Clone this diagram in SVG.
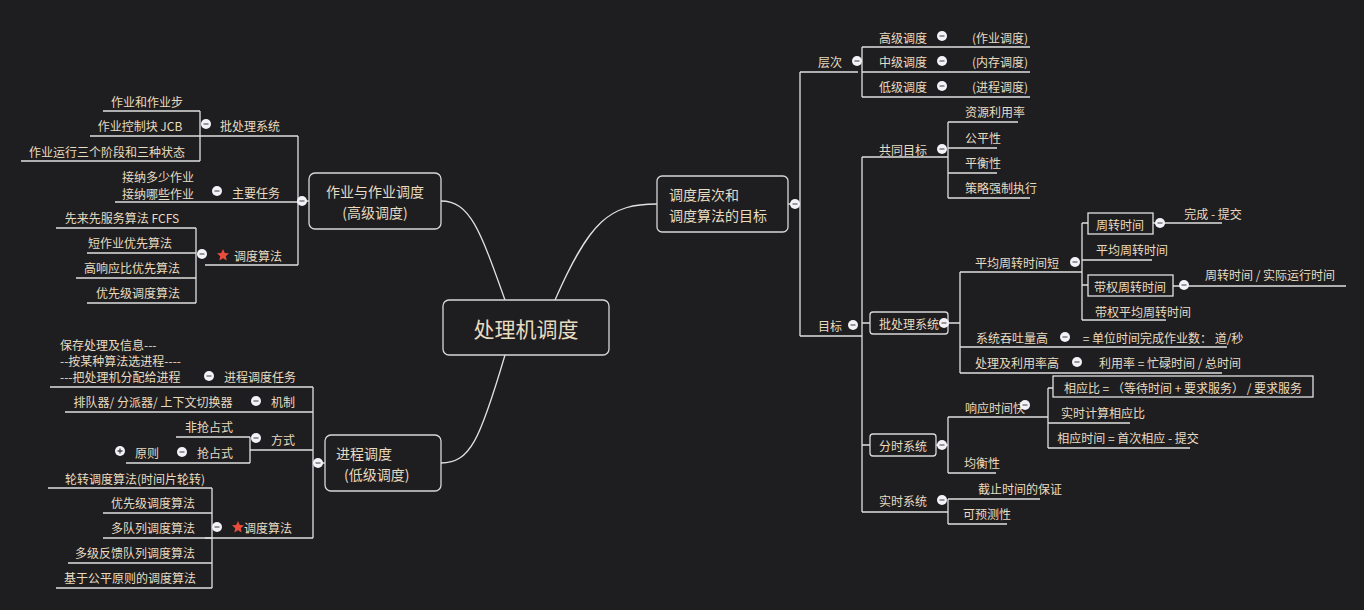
<svg xmlns="http://www.w3.org/2000/svg" xmlns:xlink="http://www.w3.org/1999/xlink" width="1364" height="610" viewBox="0 0 1364 610">
<style>
text{font-family:"Noto Sans CJK SC","Liberation Sans",sans-serif;font-size:12px;fill:#e8dcc0;dominant-baseline:central}
.m{text-anchor:middle}.e{text-anchor:end}
.big{font-size:14px}.c{font-size:21px}
.ln{stroke:#e0e0e0;stroke-width:1.3;fill:none}
.box{fill:#1e1e20;stroke:#d8d8d8;stroke-width:1.3}
</style>
<defs>
<g id="mn"><circle r="5" fill="#f2f2f8"/><line x1="-2.5" x2="2.5" stroke="#666" stroke-width="1.3"/></g>
<g id="pl"><circle r="5" fill="#f2f2f8"/><path d="M-2.5 0H2.5M0-2.5V2.5" stroke="#444" stroke-width="1.3"/></g>
<polygon id="star" points="0,-6 1.8,-2 6,-1.8 2.8,1.2 3.7,5.6 0,3.2 -3.7,5.6 -2.8,1.2 -6,-1.8 -1.8,-2" fill="#e84c3d"/>
</defs>
<rect width="1364" height="610" fill="#1e1e20"/>
<g id="connectors" class="ln">
<path d="M555 300C590 220 610 204 657 204"/>
<path d="M505 300C480 230 470 201 441 201"/>
<path d="M505 355C480 440 470 463 441 463"/>
<path d="M788 204H800M800 72V336M800 72H858M800 336H858"/>
<path d="M862 47V97M862 47H1030M862 72H1030M862 97H1030"/>
<path d="M858 336H862M862 157V512M862 157H938M862 323H870M862 445H870M862 512H938"/>
<path d="M948 122V198M948 122H1018M948 148H997M948 173H997M948 198H1030M938 157H948"/>
<path d="M948 323H960M960 272V373M960 272H1062M960 347H1227M960 373H1222"/>
<path d="M1062 272H1082M1082 223V320M1082 223H1088M1082 260H1152M1082 285H1088M1082 320H1166"/>
<path d="M1153 223H1222M1173 286H1346"/>
<path d="M936 445H948M948 417V473M948 417H1030M948 473H996"/>
<path d="M1030 417H1048M1048 388V448M1048 388H1053M1048 423H1130M1048 448H1190"/>
<path d="M938 512H948M948 499V524M948 499H1040M948 524H1007"/>
<path d="M309 201H298M298 136V265M298 136H90M298 202H115M298 265H205"/>
<path d="M200 111V161M200 111H103M200 161H21"/>
<path d="M196 228V303M196 228H56M196 253H87M196 278H76M196 303H87"/>
<path d="M325 463H313M313 387V538M313 387H50M313 412H65M313 450H250M313 538H205"/>
<path d="M250 437V463M250 437H176M250 463H126"/>
<path d="M212 488V588M212 488H48M212 513H103M212 538H103M212 563H68M212 588H56"/>
</g>
<g id="center"><rect class="box" x="443" y="300" width="166" height="55" rx="6"/><text class="m c" x="526" y="328">处理机调度</text></g>
<g id="n-right"><rect class="box" x="657" y="176" width="131" height="56" rx="5"/><text class="big" x="669" y="194">调度层次和</text><text class="big" x="669" y="215">调度算法的目标</text><use href="#mn" x="795" y="204"/></g>
<g id="n-cengci"><text class="m" x="830" y="61">层次</text><use href="#mn" x="857" y="61"/>
<text class="m" x="903" y="37">高级调度</text><use href="#mn" x="942" y="36"/><text class="m" x="1000" y="37">(作业调度)</text>
<text class="m" x="903" y="61">中级调度</text><use href="#mn" x="942" y="61"/><text class="m" x="1000" y="61">(内存调度)</text>
<text class="m" x="903" y="86">低级调度</text><use href="#mn" x="942" y="86"/><text class="m" x="1000" y="86">(进程调度)</text></g>
<g id="n-mubiao"><text class="m" x="830" y="325">目标</text><use href="#mn" x="853" y="325"/></g>
<g id="n-gongtong"><text class="m" x="903" y="149">共同目标</text><use href="#mn" x="942" y="149"/>
<text x="965" y="111">资源利用率</text><text x="965" y="137">公平性</text><text x="965" y="162">平衡性</text><text x="965" y="187">策略强制执行</text></g>
<g id="n-pichuli"><rect class="box" x="870" y="312" width="78" height="22" rx="3"/><text class="m" x="909" y="323">批处理系统</text><use href="#mn" x="944" y="323"/>
<text class="m" x="1017" y="262">平均周转时间短</text><use href="#mn" x="1075" y="262"/>
<rect fill="none" stroke="#e0e0e0" stroke-width="1.3" x="1088" y="213" width="65" height="21"/><text class="m" x="1120" y="224">周转时间</text><use href="#mn" x="1160" y="223"/><text class="m" x="1213" y="213">完成 - 提交</text>
<text class="m" x="1132" y="249">平均周转时间</text>
<rect fill="none" stroke="#e0e0e0" stroke-width="1.3" x="1088" y="275" width="85" height="21"/><text class="m" x="1130" y="286">带权周转时间</text><use href="#mn" x="1184" y="285"/><text class="m" x="1270" y="274">周转时间 / 实际运行时间</text>
<text class="m" x="1143" y="311">带权平均周转时间</text>
<text class="m" x="1012" y="337">系统吞吐量高</text><use href="#mn" x="1065" y="337"/><text class="m" x="1163" y="337">= 单位时间完成作业数： 道/秒</text>
<text class="m" x="1017" y="362">处理及利用率高</text><use href="#mn" x="1077" y="362"/><text class="m" x="1170" y="362">利用率 = 忙碌时间 / 总时间</text></g>
<g id="n-fenshi"><rect class="box" x="870" y="434" width="66" height="22" rx="3"/><text class="m" x="903" y="445">分时系统</text><use href="#mn" x="942" y="445"/>
<text class="m" x="995" y="407">响应时间快</text><use href="#mn" x="1025" y="405"/>
<rect fill="none" stroke="#e0e0e0" stroke-width="1.3" x="1053" y="376" width="260" height="21"/><text class="m" x="1183" y="387">相应比 = （等待时间 + 要求服务） /  要求服务</text>
<text class="m" x="1103" y="412">实时计算相应比</text><text class="m" x="1128" y="437">相应时间 = 首次相应 - 提交</text>
<text class="m" x="982" y="462">均衡性</text></g>
<g id="n-shishi"><text class="m" x="903" y="500">实时系统</text><use href="#mn" x="942" y="500"/>
<text class="m" x="1020" y="488">截止时间的保证</text><text class="m" x="987" y="513">可预测性</text></g>
<g id="n-zuoye"><rect class="box" x="309" y="173" width="132" height="56" rx="6"/><text class="m big" x="375" y="191">作业与作业调度</text><text class="m big" x="375" y="212">(高级调度)</text><use href="#mn" x="302" y="201"/>
<text class="m" x="250" y="125">批处理系统</text><use href="#mn" x="206" y="124"/>
<text class="m" x="147" y="101">作业和作业步</text><text class="m" x="140" y="125">作业控制块 JCB</text><text class="m" x="107" y="151">作业运行三个阶段和三种状态</text>
<text class="m" x="256" y="192">主要任务</text><use href="#mn" x="217" y="191"/>
<text class="e" x="194" y="176">接纳多少作业</text><text class="e" x="194" y="193">接纳哪些作业</text>
<use href="#star" x="223" y="255"/><text class="m" x="258" y="255">调度算法</text><use href="#mn" x="202" y="254"/>
<text class="m" x="122" y="217">先来先服务算法 FCFS</text><text class="m" x="130" y="242">短作业优先算法</text><text class="m" x="132" y="267">高响应比优先算法</text><text class="m" x="138" y="292">优先级调度算法</text></g>
<g id="n-jincheng"><rect class="box" x="325" y="435" width="116" height="56" rx="6"/><text class="big" x="336" y="453">进程调度</text><text class="big" x="344" y="474">(低级调度)</text><use href="#mn" x="318" y="463"/>
<text class="m" x="260" y="376">进程调度任务</text><use href="#mn" x="209" y="376"/>
<text x="60" y="344">保存处理及信息---</text><text x="60" y="360">--按某种算法选进程----</text><text x="60" y="376">---把处理机分配给进程</text>
<text class="m" x="283" y="401">机制</text><use href="#mn" x="256" y="401"/><text class="m" x="153" y="401">排队器/ 分派器/ 上下文切换器</text>
<text class="m" x="283" y="439">方式</text><use href="#mn" x="256" y="438"/>
<text class="m" x="209" y="426">非抢占式</text><text class="m" x="215" y="452">抢占式</text><use href="#mn" x="182" y="452"/>
<text class="m" x="147" y="452">原则</text><use href="#pl" x="120" y="451"/>
<use href="#star" x="238" y="527"/><text class="m" x="268" y="527">调度算法</text><use href="#mn" x="217" y="527"/>
<text class="m" x="135" y="478">轮转调度算法(时间片轮转)</text><text class="m" x="153" y="502">优先级调度算法</text><text class="m" x="153" y="527">多队列调度算法</text><text class="m" x="135" y="552">多级反馈队列调度算法</text><text class="m" x="130" y="577">基于公平原则的调度算法</text></g>
</svg>
